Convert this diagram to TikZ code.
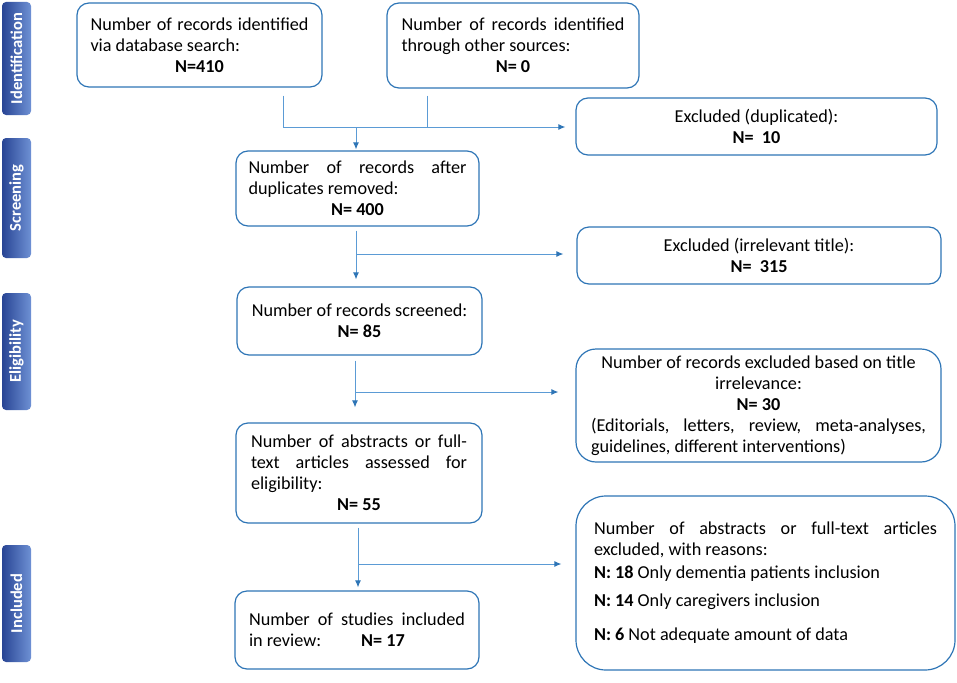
\documentclass[tikz,border=0pt]{standalone}
\usepackage{fontspec}
\setmainfont{Carlito}
\usetikzlibrary{arrows.meta}
\definecolor{boxblue}{RGB}{46,117,182}
\definecolor{lineblue}{RGB}{91,155,213}
\definecolor{stagedark}{RGB}{40,68,148}
\definecolor{stagelight}{RGB}{110,145,212}
\begin{document}
\begin{tikzpicture}[x=1pt,y=-1pt,
  box/.style={draw=boxblue, line width=1.2pt, rounded corners=12pt, inner sep=0pt, font=\fontsize{18.2}{21}\selectfont},
  stage/.style={rotate=90, rounded corners=4pt, left color=stagedark, right color=stagelight, text=white, minimum height=29pt, inner sep=0pt, font=\fontsize{16.5}{19}\selectfont\bfseries},
  conn/.style={draw=lineblue, line width=1pt},
  arr/.style={conn, -{Latex[length=7pt,width=6pt,color=boxblue]}}]
\useasboundingbox (0,0) rectangle (957,682);
% stages
\node[stage, minimum width=113pt] (stg0) at (16.5,58.5) {Identification};
\node[stage, minimum width=120pt] (stg1) at (16.5,198) {Screening};
\node[stage, minimum width=117pt] (stg2) at (16.5,351.5) {Eligibility};
\node[stage, minimum width=117pt] (stg3) at (16.5,603.5) {Included};
% main column
\node[box, minimum width=245pt, minimum height=84pt, text width=218pt, align=justify] (rec0) at (199.5,45) {Number of records identified\linebreak via database search:\par{\centering\textbf{N=410}\par}};
\node[box, minimum width=252pt, minimum height=85pt, text width=223pt, align=justify] (rec1) at (513,45.5) {Number of records identified\linebreak through other sources:\par{\centering\textbf{N= 0}\par}};
\node[box, minimum width=243pt, minimum height=75pt, text width=218pt, align=justify] (rec2) at (357.5,188.5) {Number of records after\linebreak duplicates removed:\par{\centering\textbf{N= 400}\par}};
\node[box, minimum width=245pt, minimum height=68pt, align=center] (rec3) at (359.5,321) {Number of records screened:\\\textbf{N= 85}};
\node[box, minimum width=246pt, minimum height=100pt, text width=216pt, align=justify] (rec4) at (359,473) {Number of abstracts or full-\linebreak text articles assessed for\linebreak eligibility:\par{\centering\textbf{N= 55}\par}};
\node[box, minimum width=244pt, minimum height=78pt, text width=216pt, align=justify] (rec5) at (357,630) {Number of studies included\linebreak in review:\hspace{40pt}\textbf{N= 17}};
% excluded column
\node[box, minimum width=361pt, minimum height=57pt, align=center] (excl0) at (756.5,126.5) {Excluded (duplicated):\\\textbf{N=~~10}};
\node[box, minimum width=364pt, minimum height=57pt, align=center] (excl1) at (759,255.5) {Excluded (irrelevant title):\\\textbf{N=~~315}};
\node[box, rounded corners=20pt, minimum width=365pt, minimum height=113pt, text width=335pt, align=justify] (excl2) at (758.5,405.5) {{\centering Number of records excluded based on title\\irrelevance:\\\textbf{N= 30}\par}(Editorials, letters, review, meta-analyses,\linebreak guidelines, different interventions)};
\node[box, rounded corners=30pt, minimum width=379pt, minimum height=174pt, text width=343pt, align=justify] (excl3) at (765.5,583) {Number of abstracts or full-text articles\linebreak excluded, with reasons:\par\vspace{2pt}\textbf{N: 18} Only dementia patients inclusion\par\vspace{7pt}\textbf{N: 14} Only caregivers inclusion\par\vspace{13pt}\textbf{N: 6} Not adequate amount of data};
% connectors
\coordinate (jn0) at (283,127);
\coordinate (jn1) at (427,127);
\coordinate (jn2) at (356,127);
\coordinate (br0) at (356,254);
\coordinate (br1) at (355,392);
\coordinate (br2) at (358,564);
\draw[conn, shorten <=8pt] (rec0.south -| jn0) -- (jn0);
\draw[conn, shorten <=7pt] (rec1.south -| jn1) -- (jn1);
\draw[arr, shorten >=10pt] (jn0) -- (excl0.west |- jn0);
\draw[arr, shorten >=1pt] (jn2) -- (rec2.north -| jn2);
\draw[arr, shorten <=4pt, shorten >=7pt] (rec2.south -| br0) -- (rec3.north -| br0);
\draw[arr, shorten >=13pt] (br0) -- (excl1.west |- br0);
\draw[arr, shorten <=5pt, shorten >=15pt] (rec3.south -| br1) -- (rec4.north -| br1);
\draw[arr, shorten >=17pt] (br1) -- (excl2.west |- br1);
\draw[arr, shorten <=4pt, shorten >=3pt] (rec4.south -| br2) -- (rec5.north -| br2);
\draw[arr, shorten >=14pt] (br2) -- (excl3.west |- br2);
\end{tikzpicture}
\end{document}
